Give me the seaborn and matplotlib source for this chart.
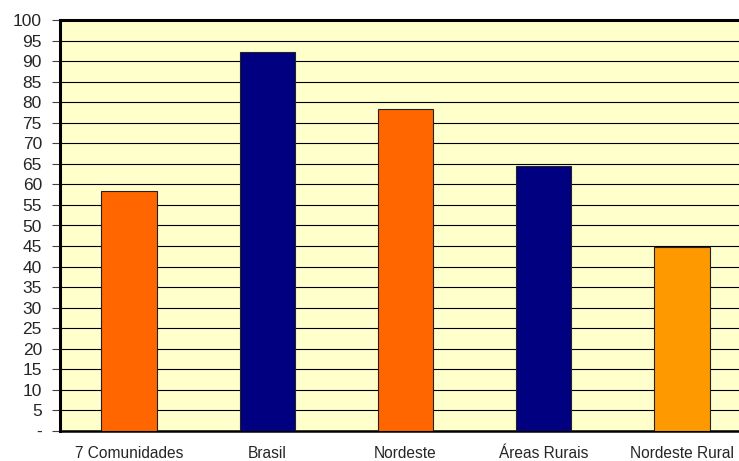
import matplotlib
matplotlib.use("Agg")
import matplotlib.pyplot as plt
import seaborn as sns
import numpy as np

categories = ["7 Comunidades", "Brasil", "Nordeste", "Áreas Rurais", "Nordeste Rural"]
values = [58.3, 92.2, 78.4, 64.5, 44.8]
bar_colors = ["#FF6600", "#000080", "#FF6600", "#000080", "#FF9900"]
y_ticks = list(range(0, 101, 5))
y_labels = ["-"] + [str(t) for t in y_ticks[1:]]

sns.set_style("white")
plt.rcParams['font.family'] = ['Liberation Sans', 'DejaVu Sans']

fig = plt.figure(figsize=(7.39, 4.61), dpi=100)
# axes runs slightly past the right edge, like the original
ax = fig.add_axes([60 / 739, 1 - 431 / 461, 691 / 739, 411 / 461])
ax.set_facecolor("#FFFFCC")

sns.barplot(x=categories, y=values, hue=categories, palette=bar_colors,
            legend=False, width=0.4, edgecolor="#222222", linewidth=0.8,
            saturation=1, ax=ax, zorder=3)

ax.set_ylim(0, 100)
ax.set_xlim(-0.5, len(categories) - 0.5)
ax.set_yticks(y_ticks)
ax.set_yticklabels(y_labels, fontsize=12.5)
ax.yaxis.grid(True, color="black", linewidth=0.8, zorder=0)
ax.set_axisbelow(True)

# x tick marks sit between the categories
ax.set_xticks(np.arange(len(categories)))
ax.set_xticklabels(categories, fontsize=11.2)
ax.tick_params(axis="x", length=0, pad=11)
ax.set_xticks(np.arange(len(categories) + 1) - 0.5, minor=True)
ax.tick_params(axis="x", which="minor", length=6, width=0.8, color="#444444", direction="out")
ax.tick_params(axis="y", length=6, width=0.8, color="#444444", direction="out", pad=7, left=True)

ax.spines["left"].set_linewidth(2.2)
ax.spines["top"].set_linewidth(2.2)
ax.spines["bottom"].set_linewidth(1.8)
ax.spines["right"].set_visible(False)
for s in ["left", "top", "bottom"]:
    ax.spines[s].set_color("black")

ax.set_xlabel("")
ax.set_ylabel("")

fig.savefig("out.png", dpi=100)
